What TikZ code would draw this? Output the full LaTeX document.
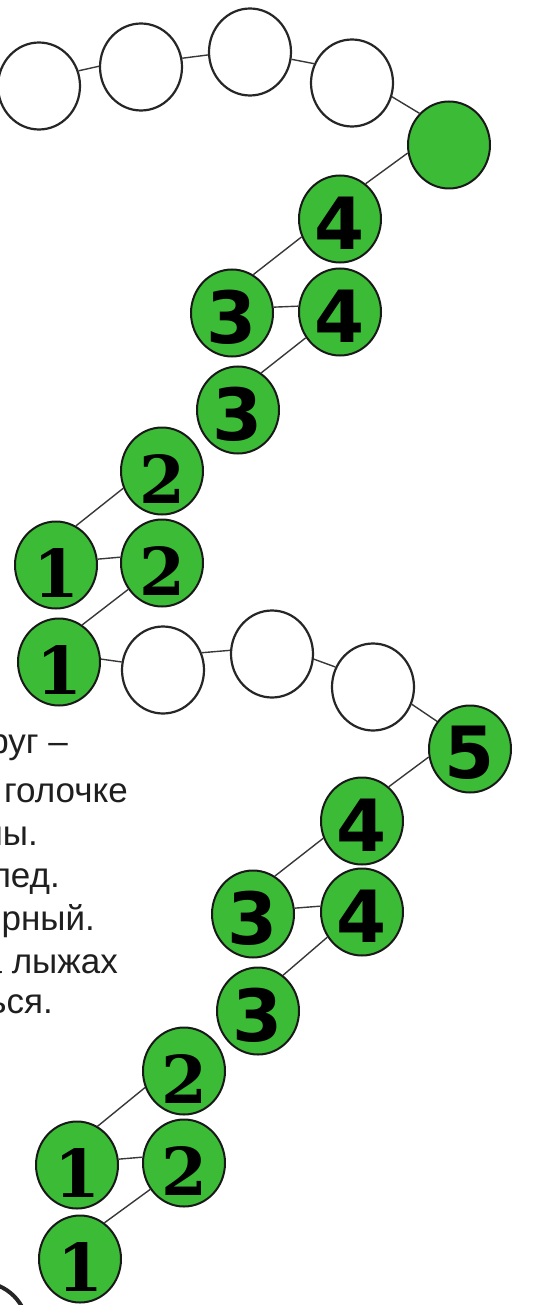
\documentclass[tikz,border=0pt]{standalone}
\usepackage{fontspec}
\setmainfont{Liberation Sans}
\newfontfamily\digsans{DejaVu Sans}
\newfontfamily\digserif{DejaVu Serif}
\usetikzlibrary{shapes.geometric}
\definecolor{grn}{RGB}{60,187,55}
\tikzset{
  ring/.style={ellipse, draw=black!85, line width=2.2pt, fill=white,
    minimum width=82pt, minimum height=87pt, inner sep=0pt},
  ball/.style={ellipse, draw=black!90, line width=2pt, fill=grn,
    minimum width=82pt, minimum height=87pt, inner sep=0pt},
  sansnum/.style={label={[font=\digsans\bfseries\fontsize{72}{72}\selectfont, yshift=-4pt, inner sep=0pt]center:#1}},
  serifnum/.style={label={[font=\digserif\bfseries\fontsize{66}{66}\selectfont, yshift=-8pt, inner sep=0pt]center:#1}},
  link/.style={draw=black!78, line width=1.4pt},
  verse/.style={anchor=base east, font=\fontsize{35}{43}\selectfont, text=black!88, inner sep=0pt}
}
\begin{document}
\begin{tikzpicture}[x=1pt, y=-1pt]
\useasboundingbox (0,0) rectangle (553,1305);
% upper chain
\node[ring] (W1) at (39,86) {};
\node[ring] (W2) at (141,67) {};
\node[ring] (W3) at (250,52) {};
\node[ring] (W4) at (352,83) {};
\node[ball] (G0) at (449,145) {};
\node[ball, sansnum=4] (N4a) at (340,219) {};
\node[ball, sansnum=3] (N3a) at (232,313) {};
\node[ball, sansnum=4] (N4b) at (340,312) {};
\node[ball, sansnum=3] (N3b) at (238,410) {};
\node[ball, serifnum=2] (N2a) at (162,471) {};
\node[ball, serifnum=1] (N1a) at (56,565) {};
\node[ball, serifnum=2] (N2b) at (162,563) {};
\node[ball, serifnum=1] (N1b) at (59,662) {};
% lower chain
\node[ring] (W5) at (163,670) {};
\node[ring] (W6) at (272,654) {};
\node[ring] (W7) at (373,687) {};
\node[ball, sansnum=5] (N5) at (470,749) {};
\node[ball, sansnum=4] (N4c) at (362,821) {};
\node[ball, sansnum=3] (N3c) at (253,914) {};
\node[ball, sansnum=4] (N4d) at (362,912) {};
\node[ball, sansnum=3] (N3d) at (258,1011) {};
\node[ball, serifnum=2] (N2c) at (184,1071) {};
\node[ball, serifnum=1] (N1c) at (77,1165) {};
\node[ball, serifnum=2] (N2d) at (184,1163) {};
\node[ball, serifnum=1] (N1d) at (80,1259) {};
% connectors
\draw[link] (W1.21) -- (W2.179);
\draw[link] (W2.12) -- (W3.184);
\draw[link] (W3.350) -- (W4.153);
\draw[link] (W4.341) -- (G0.133);
\draw[link] (G0.191) -- (N4a.54);
\draw[link] (N4a.205) -- (N3a.61);
\draw[link] (N3a.8) -- (N4b.172);
\draw[link] (N4b.217) -- (N3b.58);
\draw[link] (N2a.204) -- (N1a.63);
\draw[link] (N1a.8) -- (N2b.172);
\draw[link] (N2b.218) -- (N1b.58);
\draw[link] (N1b.4) -- (W5.169);
\draw[link] (W5.24) -- (W6.175);
\draw[link] (W6.353) -- (W7.152);
\draw[link] (W7.336) -- (N5.140);
\draw[link] (N5.191) -- (N4c.52);
\draw[link] (N4c.204) -- (N3c.60);
\draw[link] (N3c.8) -- (N4d.172);
\draw[link] (N4d.216) -- (N3d.55);
\draw[link] (N2c.203) -- (N1c.62);
\draw[link] (N1c.8) -- (N2d.172);
\draw[link] (N2d.218) -- (N1d.56);
% cut-off text on the left
\node[verse] (t1) at (68,753) {руг –};
\node[verse] (t2) at (128,802) {голочке};
\node[verse] (t3) at (38,845) {ны.};
\node[verse] (t4) at (60,887) {лед.};
\node[verse] (t5) at (95,930) {рный.};
\node[verse] (t6) at (118,973) {а лыжах};
\node[verse] (t7) at (53,1013) {ься.};
% partial ring at the bottom left
\draw[line width=4pt, draw=black!85] (-20,1330) circle[radius=48pt];
\end{tikzpicture}
\end{document}
